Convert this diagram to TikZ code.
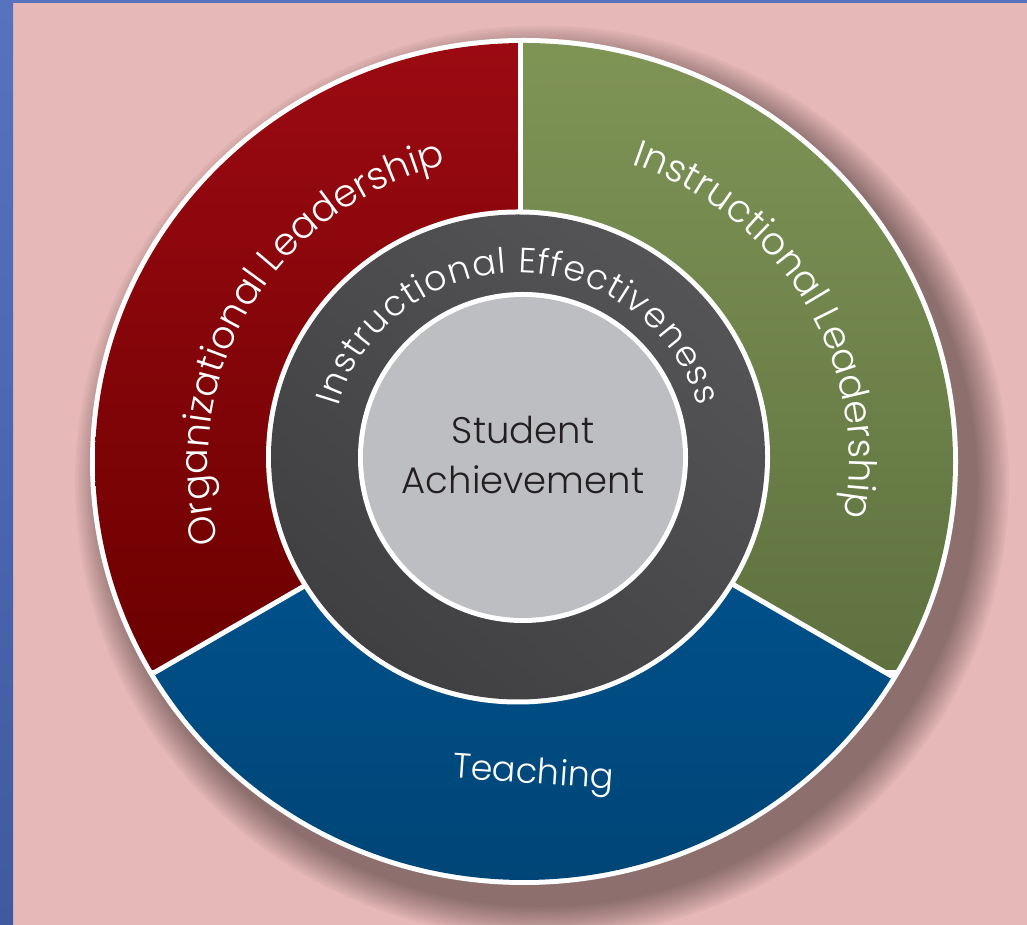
\documentclass[tikz,border=0pt]{standalone}
\usepackage{fontspec}
\IfFontExistsTF{Poppins Light}{\setmainfont{Poppins Light}}{\setmainfont{Poppins}}
\usetikzlibrary{decorations.text,calc}
\definecolor{bgpink}{HTML}{E6B8B7}
\definecolor{blueA}{HTML}{5673BE}
\definecolor{blueB}{HTML}{3F5AA0}
\definecolor{redA}{HTML}{9C0A12}
\definecolor{redB}{HTML}{6C0000}
\definecolor{greenA}{HTML}{7F9556}
\definecolor{greenB}{HTML}{5E713F}
\definecolor{tealA}{HTML}{00508A}
\definecolor{tealB}{HTML}{004576}
\definecolor{ringA}{HTML}{545457}
\definecolor{ringB}{HTML}{404042}
\definecolor{coreC}{HTML}{BDBEC2}
\definecolor{darktxt}{HTML}{231F20}
\tikzset{
  divider/.style={white, line width=5pt},
  coretext/.style={text=darktxt, anchor=base, inner sep=0pt, font=\fontsize{37}{37}\selectfont},
}
\newcommand{\arcsize}{\fontsize{38}{38}\selectfont}
\newcommand{\ringsize}{\fontsize{35}{35}\selectfont}
\begin{document}
\begin{tikzpicture}[x=1pt,y=1pt]
\useasboundingbox (0,0) rectangle (1027,925);
\fill[bgpink] (0,0) rectangle (1027,925);
\shade[top color=blueA, bottom color=blueB] (0,0) rectangle (13,925);
\fill[blueA] (0,922) rectangle (1027,925);

\coordinate (E) at (524,463.5);
\coordinate (D) at (520,463.5);
\coordinate (G) at (518,468);
\coordinate (I) at (523,467.5);

% shadow
\foreach \i in {0,...,15}{
  \fill[black,opacity=0.027] (542,443) ellipse[x radius={434+33-\i*2.1}, y radius={423.5+33-\i*2.1}];
}

% outer white disc
\fill[white] (E) ellipse[x radius=434, y radius=423.5];

\begin{scope}
  \clip (E) ellipse[x radius=429, y radius=418.5];
  % red
  \begin{scope}
    \clip (D) -- ($(D)+(90:900)$) -- ($(D)+(150:900)$) -- ($(D)+(210:900)$) -- cycle;
    \shade[top color=redA, bottom color=redB] (88,255) rectangle (522,889);
  \end{scope}
  % green
  \begin{scope}
    \clip (D) -- ($(D)+(90:900)$) -- ($(D)+(30:900)$) -- ($(D)+(-30:900)$) -- cycle;
    \shade[top color=greenA, bottom color=greenB] (518,255) rectangle (960,889);
  \end{scope}
  % blue
  \begin{scope}
    \clip (D) -- ($(D)+(210:900)$) -- ($(D)+(270:900)$) -- ($(D)+(330:900)$) -- cycle;
    \shade[top color=tealA, bottom color=tealB] (88,38) rectangle (960,345);
  \end{scope}
  \draw[divider] (D) -- ($(D)+(90:500)$);
  \draw[divider] (D) -- ($(D)+(210:600)$);
  \draw[divider] (D) -- ($(D)+(330:600)$);
\end{scope}

% grey ring
\fill[white] (G) ellipse[x radius=252, y radius=247.5];
\shade[top color=ringA, bottom color=ringB, shading angle=-40] (G) ellipse[x radius=247, y radius=242.5];
% core
\fill[white] (I) ellipse[x radius=165, y radius=165.5];
\fill[coreC] (I) ellipse[x radius=160, y radius=160.5];

% texts
\node[coretext] (sa1) at (523,481) {Student};
\node[coretext] (sa2) at (523,431) {Achievement};
\node[text=white, rotate=-4, font=\fontsize{35}{35}\selectfont] (teach) at (533,150) {Teaching};

\path[decorate, decoration={text along path, text align=center,
  text={|\arcsize\color{white}|Organizational Leadership}}]
  ($(E)+(210:316 and 306)$) arc[start angle=210, end angle=90, x radius=316, y radius=306];

\path[decorate, decoration={text along path, text align=center,
  text={|\arcsize\color{white}|Instructional Leadership}}]
  ($(E)+(90:325 and 315)$) arc[start angle=90, end angle=-30, x radius=325, y radius=315];

\path[decorate, decoration={text effects along path,
  text={Instructional Effectiveness},
  text effects/.cd, text along path, fit text to path,
  characters={text=white, font=\ringsize}}]
  ($(G)+(164:187 and 184)$) arc[start angle=164, end angle=16, x radius=187, y radius=184];
\end{tikzpicture}
\end{document}
